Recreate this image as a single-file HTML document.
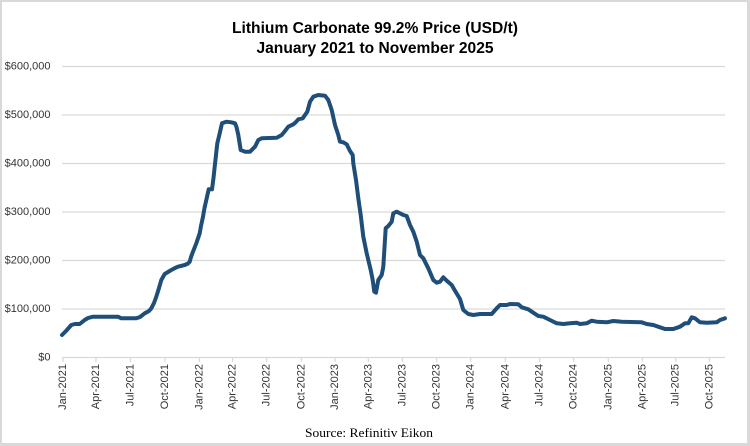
<!DOCTYPE html>
<html>
<head>
<meta charset="utf-8">
<style>
html,body{margin:0;padding:0;background:#fff;}
svg{display:block;}
</style>
</head>
<body>
<svg width="750" height="446" viewBox="0 0 750 446" xmlns="http://www.w3.org/2000/svg">
  <rect x="0" y="0" width="750" height="446" fill="#d9d9d9"/>
  <rect x="2" y="2" width="745" height="441" fill="#ffffff"/>

  <!-- Title -->
  <text x="375" y="33" text-anchor="middle" font-family="Liberation Sans, sans-serif" font-weight="bold" font-size="16" fill="#000" textLength="286" lengthAdjust="spacingAndGlyphs">Lithium Carbonate 99.2% Price (USD/t)</text>
  <text x="375" y="53" text-anchor="middle" font-family="Liberation Sans, sans-serif" font-weight="bold" font-size="16" fill="#000" textLength="237" lengthAdjust="spacingAndGlyphs">January 2021 to November 2025</text>

  <!-- Gridlines -->
  <g stroke="#d9d9d9" stroke-width="1.2">
    <line x1="62" y1="66.5" x2="725" y2="66.5"/>
    <line x1="62" y1="115" x2="725" y2="115"/>
    <line x1="62" y1="163.5" x2="725" y2="163.5"/>
    <line x1="62" y1="212" x2="725" y2="212"/>
    <line x1="62" y1="260.5" x2="725" y2="260.5"/>
    <line x1="62" y1="309" x2="725" y2="309"/>
    <line x1="62" y1="357.5" x2="725" y2="357.5"/>
  </g>

  <!-- Y labels -->
  <g font-family="Liberation Sans, sans-serif" font-size="11" fill="#333" text-anchor="end" dominant-baseline="central">
    <text x="50.5" y="66.5">$600,000</text>
    <text x="50.5" y="115">$500,000</text>
    <text x="50.5" y="163.5">$400,000</text>
    <text x="50.5" y="212">$300,000</text>
    <text x="50.5" y="260.5">$200,000</text>
    <text x="50.5" y="309">$100,000</text>
    <text x="50.5" y="357.5">$0</text>
  </g>

  <!-- X ticks -->
  <g stroke="#d9d9d9" stroke-width="1.2">
    <line x1="63" y1="357.5" x2="63" y2="362"/>
    <line x1="96" y1="357.5" x2="96" y2="362"/>
    <line x1="130.5" y1="357.5" x2="130.5" y2="362"/>
    <line x1="165" y1="357.5" x2="165" y2="362"/>
    <line x1="199.3" y1="357.5" x2="199.3" y2="362"/>
    <line x1="232.7" y1="357.5" x2="232.7" y2="362"/>
    <line x1="266.7" y1="357.5" x2="266.7" y2="362"/>
    <line x1="301.3" y1="357.5" x2="301.3" y2="362"/>
    <line x1="335" y1="357.5" x2="335" y2="362"/>
    <line x1="368.3" y1="357.5" x2="368.3" y2="362"/>
    <line x1="402.3" y1="357.5" x2="402.3" y2="362"/>
    <line x1="436.7" y1="357.5" x2="436.7" y2="362"/>
    <line x1="470.7" y1="357.5" x2="470.7" y2="362"/>
    <line x1="505.3" y1="357.5" x2="505.3" y2="362"/>
    <line x1="539.7" y1="357.5" x2="539.7" y2="362"/>
    <line x1="573.7" y1="357.5" x2="573.7" y2="362"/>
    <line x1="608.3" y1="357.5" x2="608.3" y2="362"/>
    <line x1="642.3" y1="357.5" x2="642.3" y2="362"/>
    <line x1="675.7" y1="357.5" x2="675.7" y2="362"/>
    <line x1="709.3" y1="357.5" x2="709.3" y2="362"/>
  </g>

  <!-- X labels -->
  <g font-family="Liberation Sans, sans-serif" font-size="11" fill="#333" text-anchor="end" dominant-baseline="central">
    <text transform="translate(63,364) rotate(-90)">Jan-2021</text>
    <text transform="translate(96,364) rotate(-90)">Apr-2021</text>
    <text transform="translate(130.5,364) rotate(-90)">Jul-2021</text>
    <text transform="translate(165,364) rotate(-90)">Oct-2021</text>
    <text transform="translate(199.3,364) rotate(-90)">Jan-2022</text>
    <text transform="translate(232.7,364) rotate(-90)">Apr-2022</text>
    <text transform="translate(266.7,364) rotate(-90)">Jul-2022</text>
    <text transform="translate(301.3,364) rotate(-90)">Oct-2022</text>
    <text transform="translate(335,364) rotate(-90)">Jan-2023</text>
    <text transform="translate(368.3,364) rotate(-90)">Apr-2023</text>
    <text transform="translate(402.3,364) rotate(-90)">Jul-2023</text>
    <text transform="translate(436.7,364) rotate(-90)">Oct-2023</text>
    <text transform="translate(470.7,364) rotate(-90)">Jan-2024</text>
    <text transform="translate(505.3,364) rotate(-90)">Apr-2024</text>
    <text transform="translate(539.7,364) rotate(-90)">Jul-2024</text>
    <text transform="translate(573.7,364) rotate(-90)">Oct-2024</text>
    <text transform="translate(608.3,364) rotate(-90)">Jan-2025</text>
    <text transform="translate(642.3,364) rotate(-90)">Apr-2025</text>
    <text transform="translate(675.7,364) rotate(-90)">Jul-2025</text>
    <text transform="translate(709.3,364) rotate(-90)">Oct-2025</text>
  </g>

  <!-- Data line -->
  <polyline fill="none" stroke="#1f4e79" stroke-width="4" stroke-linejoin="round" stroke-linecap="round"
    points="62,335 66,331 71.3,325 75,324 79.7,324 84.7,320 88,318 93,316.7 118,316.7 121.3,318.3 136.3,318.3 140,317 144.7,313.3 149,311 151.3,308.3 154,303 156.3,296.7 159,288 161.3,280 164.7,274 168,272 171.3,270 175,268 178,266.7 184.7,265 188,263.5 189.7,261.7 191,257 193,251.7 196.3,243.3 199.7,233.3 201,226 203,216.7 204.5,208 206.3,200 208.7,189.3 212,189.3 213.5,178 214.7,166.7 216,155 217.3,143.3 219.7,133.3 222,123.3 226.3,121.7 231.3,122.3 235,123.3 236.5,127 238.3,135 240.7,150 245,151.7 250,151.7 255,146.7 258.3,140 261.7,138.3 276.7,137.7 281.7,135 285,131 288.3,126.7 293.3,124.3 296,122 298.3,119.3 302.7,118.3 305,115 307.3,111.7 310,101.7 313.3,96.7 318.3,95 325,95.7 328.3,100 331.7,110 335,125 338.3,135 340,141.7 343.3,142.3 346.7,144.3 350,151 352.7,155 353.3,163.3 356,180 358.3,198.3 360.7,215 363.3,236.7 366.7,253.3 370.7,270 372.7,280 374.3,291.7 376,292.7 378.3,280 381.7,275 383.3,266.7 385.7,228.3 388.3,226 391.7,221.7 393.3,213.3 396.7,211.7 400,213.3 403.3,215 406.7,216 410,225 413.3,231.7 416.7,241.7 420,255 423.3,258.3 428.3,268.3 433.3,280 436.7,282.7 440,281.7 443.3,277.3 446.7,280.7 451.7,285 455,290.7 460,299 463.3,310 468.3,314 473.3,315 480,314 491.7,314 496.7,308.3 500,305 506.7,305 510,304 518.3,304.3 521.7,307.3 528.3,309.3 533.3,312.7 538.3,316 543.3,316.7 550,320 556.7,323.3 563.3,324 570,323.3 576.7,322.7 580,324 586.7,323.3 591.7,320.7 596.7,321.7 606.7,322.3 613.3,321 621.7,321.7 641.7,322.3 646.7,324 653.3,325 660,327.3 665,329 673.3,329 680,326.7 685,323.3 688.3,323.3 691.7,317.3 695,318.3 700,322.3 706.7,322.7 716.7,322.3 720,320 725,318.3"/>

  <!-- Source -->
  <text x="305" y="437" font-family="Liberation Serif, serif" font-size="13" fill="#000" textLength="128" lengthAdjust="spacingAndGlyphs">Source: Refinitiv Eikon</text>
</svg>
</body>
</html>
